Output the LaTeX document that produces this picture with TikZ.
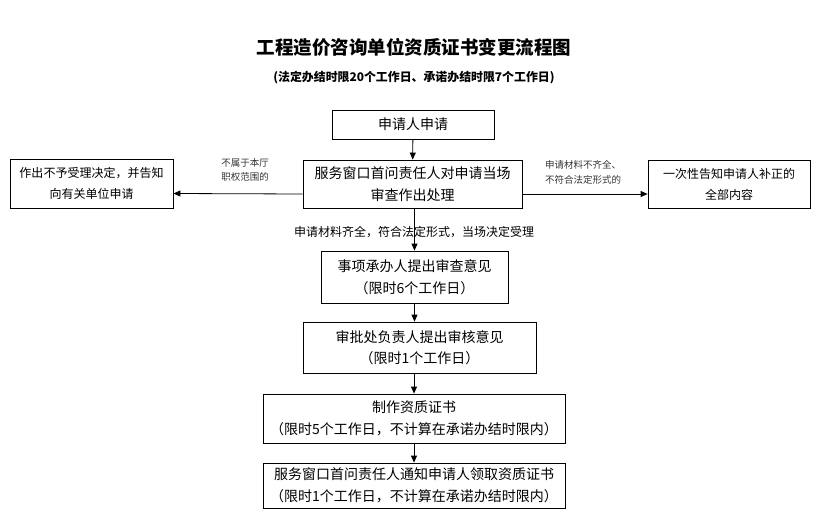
\documentclass[tikz,border=0pt]{standalone}
\usepackage{fontspec}
\setmainfont{Noto Sans CJK SC}
\usetikzlibrary{arrows.meta}
\begin{document}
\begin{tikzpicture}[x=1pt, y=-1pt]
        \tikzstyle{every node}=[inner sep=0pt]
        \tikzstyle{box}=[draw, line width=0.8pt, align=center, font=\fontsize{14}{21.5}\selectfont]
        \tikzstyle{side}=[box, font=\fontsize{12}{21}\selectfont]
        \tikzstyle{note}=[align=left, font=\fontsize{9.5}{14.5}\selectfont, text=black!80]
        \tikzstyle{every path}=[line width=0.8pt, -{Triangle[length=7pt, width=6pt]}]
        \useasboundingbox (0,0) rectangle (829,532);

        \node[font=\bfseries\fontsize{18.5}{20}\selectfont] (title) at (414,47) {工程造价咨询单位资质证书变更流程图};
        \node[font=\bfseries\fontsize{11.9}{14}\selectfont] (sub) at (414,78) {(法定办结时限20个工作日、承诺办结时限7个工作日)};

        \node[box, minimum width=162, minimum height=29] (s1) at (413,124.5) {申请人申请};
        \node[box, minimum width=219, minimum height=48] (s2) at (412.5,184) {服务窗口首问责任人对申请当场\\审查作出处理};
        \node[side, minimum width=163, minimum height=49] (s3) at (91.5,183.5) {作出不予受理决定，并告知\\向有关单位申请};
        \node[side, minimum width=162, minimum height=48] (s4) at (729,184) {一次性告知申请人补正的\\全部内容};

        \node[box, minimum width=187, minimum height=52] (s5) at (414.5,277) {事项承办人提出审查意见\\（限时6个工作日）};
        \node[box, minimum width=233, minimum height=51] (s6) at (419.5,347.5) {审批处负责人提出审核意见\\（限时1个工作日）};
        \node[box, minimum width=302, minimum height=49] (s7) at (414,418.5) {制作资质证书\\（限时5个工作日，不计算在承诺办结时限内）};
        \node[box, minimum width=302, minimum height=45] (s8) at (414,485.5) {服务窗口首问责任人通知申请人领取资质证书\\（限时1个工作日，不计算在承诺办结时限内）};

        \node[note] (n1) at (245,170) {不属于本厅\\职权范围的};
        \node[note] (n2) at (583,172.5) {申请材料不齐全、\\不符合法定形式的};
        \node[font=\fontsize{12}{14}\selectfont] (n3) at (414,232) {申请材料齐全，符合法定形式，当场决定受理};

        \draw (s1) -- (s2);
        \draw ([yshift=-10]s2.west) -- ([yshift=-10]s3.east);
        \draw ([yshift=-10]s2.east) -- ([yshift=-10]s4.west);
        \draw (s2.south -| s5) -- (s5);
        \draw (s5.south) -- (s5.south |- s6.north);
        \draw (s6.south -| s7) -- (s7);
        \draw (s7) -- (s8);
    \end{tikzpicture}
\end{document}
